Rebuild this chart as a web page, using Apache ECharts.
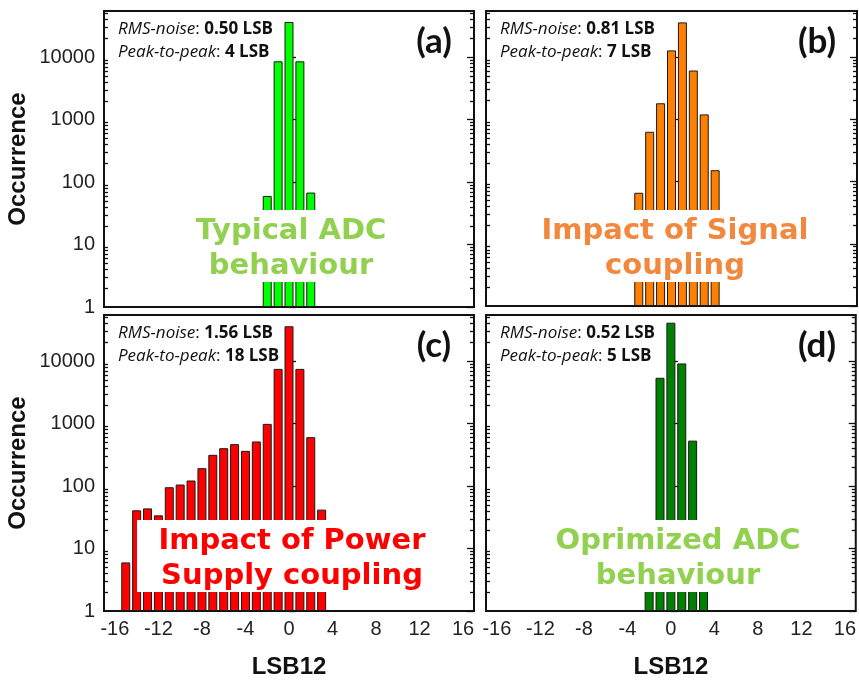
<!DOCTYPE html>
<html>
<head>
<meta charset="utf-8">
<script src="https://cdn.jsdelivr.net/npm/echarts@6/dist/echarts.min.js"></script>
<style>
  html, body { margin: 0; padding: 0; background: #fff; }
  #chart { width: 859px; height: 680px; }
</style>
</head>
<body>
<div id="chart"></div>
<script>
// histogram data (LSB12 code vs. occurrence)
const lsbA = [-2, -1, 0, 1, 2];
const countA = [60, 8600, 36700, 8600, 68];

const lsbB = [-3, -2, -1, 0, 1, 2, 3, 4];
const countB = [66, 630, 1810, 12800, 36100, 6080, 1200, 152];

const lsbC = [-15, -14, -13, -12, -11, -10, -9, -8, -7, -6, -5, -4, -3, -2, -1, 0, 1, 2, 3];
const countC = [6, 41, 44, 34, 96, 106, 123, 194, 317, 405, 470, 367, 519, 993, 7540, 36300, 7540, 608, 42];

const lsbD = [-2, -1, 0, 1, 2, 3];
const countD = [5, 5430, 41400, 9220, 535, 4];

const xTickLabels = [-16, -12, -8, -4, 0, 4, 8, 12, 16];
const yTickLabels = [1, 10, 100, 1000, 10000];
const yMinorTicks = [
    2, 3, 4, 5, 6, 7, 8, 9,
    20, 30, 40, 50, 60, 70, 80, 90,
    200, 300, 400, 500, 600, 700, 800, 900,
    2000, 3000, 4000, 5000, 6000, 7000, 8000, 9000,
    20000, 30000, 40000, 50000
];

const statsRms = ['0.50 LSB', '0.81 LSB', '1.56 LSB', '0.52 LSB'];
const statsPtp = ['4 LSB', '7 LSB', '18 LSB', '5 LSB'];
const letters = ['(a)', '(b)', '(c)', '(d)'];
const notes = ['Typical ADC\nbehaviour', 'Impact of Signal\ncoupling', 'Impact of Power\nSupply coupling', 'Oprimized ADC\nbehaviour'];

const panels = [
    { lsb: lsbA, count: countA, color: '#00ff00', noteColor: '#92d050',
      grid: { left: 104, top: 11, width: 370, height: 296 }, box: [135, 210, 312, 72], showX: false, showY: true },
    { lsb: lsbB, count: countB, color: '#ff8000', noteColor: '#f2883e',
      grid: { left: 486, top: 11, width: 371, height: 295 }, box: [513, 210, 324, 72], showX: false, showY: false },
    { lsb: lsbC, count: countC, color: '#ff0000', noteColor: '#ff0000',
      grid: { left: 104, top: 315, width: 370, height: 297 }, box: [137, 520, 310, 72], showX: true, showY: true },
    { lsb: lsbD, count: countD, color: '#008000', noteColor: '#92d050',
      grid: { left: 486, top: 315, width: 371, height: 296 }, box: [519, 520, 318, 72], showX: true, showY: false }
];

const chart = echarts.init(document.getElementById('chart'));

const grids = [], xAxes = [], yAxes = [], series = [], graphics = [];

function yAxisFor(i, position, ticks, len, withLabels) {
    return {
        type: 'log', logBase: 10, gridIndex: i, position: position,
        min: 1, max: 55000,
        axisLine: { show: false },
        splitLine: { show: false },
        axisTick: { show: true, inside: true, length: len, customValues: ticks,
                    lineStyle: { color: '#111', width: 1.3 } },
        axisLabel: { show: withLabels, customValues: yTickLabels, margin: 9,
                     formatter: (v) => String(v),
                     fontFamily: 'Liberation Sans', fontSize: 20, color: '#222' },
        name: withLabels ? 'Occurrence' : '',
        nameLocation: 'middle', nameGap: 74,
        nameTextStyle: { fontFamily: 'Liberation Sans', fontWeight: 'bold', fontSize: 24, color: '#111' }
    };
}

panels.forEach((p, i) => {
    grids.push(Object.assign({ show: true, borderColor: '#111', borderWidth: 2, backgroundColor: 'transparent' }, p.grid));

    xAxes.push({
        type: 'value', gridIndex: i, min: -17, max: 17,
        axisLine: { show: false }, axisTick: { show: false }, splitLine: { show: false },
        axisLabel: { show: p.showX, customValues: xTickLabels, margin: 8,
                     fontFamily: 'Liberation Sans', fontSize: 20, color: '#222' },
        name: p.showX ? 'LSB12' : '', nameLocation: 'middle', nameGap: 44,
        nameTextStyle: { fontFamily: 'Liberation Sans', fontWeight: 'bold', fontSize: 24, color: '#111' }
    });

    yAxes.push(yAxisFor(i, 'left', yTickLabels, 7, p.showY));
    yAxes.push(yAxisFor(i, 'left', yMinorTicks, 4, false));
    yAxes.push(yAxisFor(i, 'right', yTickLabels, 7, false));
    yAxes.push(yAxisFor(i, 'right', yMinorTicks, 4, false));

    series.push({
        type: 'bar', xAxisIndex: i, yAxisIndex: i * 4,
        data: p.lsb.map((v, k) => [v, p.count[k]]),
        barWidth: 9,
        itemStyle: { color: p.color, borderColor: '#1a1a1a', borderWidth: 1 }
    });

    const g = p.grid;
    graphics.push({
        type: 'rect', z: 100,
        shape: { x: p.box[0], y: p.box[1], width: p.box[2], height: p.box[3] },
        style: { fill: '#fff' }
    });
    graphics.push({
        type: 'text', z: 101,
        x: p.box[0] + p.box[2] / 2, y: p.box[1] + p.box[3] / 2 + 3,
        style: { text: notes[i], fill: p.noteColor, font: 'bold 29px "DejaVu Sans"',
                 lineHeight: 35, align: 'center', verticalAlign: 'middle' }
    });
    graphics.push({
        type: 'text', z: 101,
        x: g.left + 14, y: g.top + 7,
        style: {
            text: '{i|RMS-noise}: {b|' + statsRms[i] + '}\n{i|Peak-to-peak}: {b|' + statsPtp[i] + '}',
            font: '17px "Open Sans"', fill: '#111', lineHeight: 23,
            rich: {
                i: { fontStyle: 'italic', fontFamily: 'Open Sans', fontSize: 17, lineHeight: 23, fill: '#111' },
                b: { fontWeight: 'bold', fontFamily: 'Open Sans', fontSize: 17, lineHeight: 23, fill: '#111' }
            }
        }
    });
    graphics.push({
        type: 'text', z: 101,
        x: g.left + g.width - 40, y: g.top + 31,
        style: { text: letters[i], font: 'bold 35px Lato', fill: '#111', align: 'center', verticalAlign: 'middle' }
    });
});

chart.setOption({
    animation: false,
    backgroundColor: '#fff',
    grid: grids,
    xAxis: xAxes,
    yAxis: yAxes,
    series: series,
    graphic: graphics
});
</script>
</body>
</html>
